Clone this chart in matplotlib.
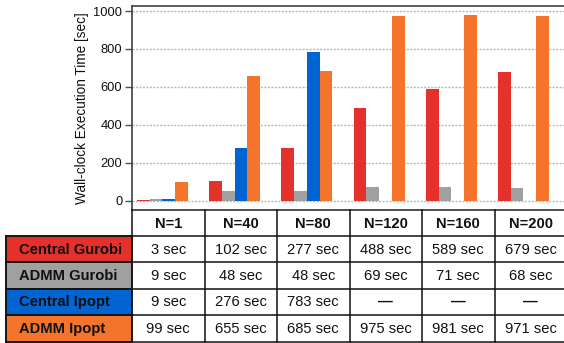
import matplotlib
matplotlib.use("Agg")
import matplotlib.pyplot as plt
from matplotlib.patches import Rectangle

plt.rcParams['font.family'] = ['Liberation Sans', 'DejaVu Sans']

categories = ["N=1", "N=40", "N=80", "N=120", "N=160", "N=200"]
series_names = ["Central Gurobi", "ADMM Gurobi", "Central Ipopt", "ADMM Ipopt"]
central_gurobi = [3, 102, 277, 488, 589, 679]
admm_gurobi = [9, 48, 48, 69, 71, 68]
central_ipopt = [9, 276, 783, None, None, None]
admm_ipopt = [99, 655, 685, 975, 981, 971]
series_values = [central_gurobi, admm_gurobi, central_ipopt, admm_ipopt]
colors = ["#e4312b", "#a0a0a0", "#0064d2", "#f5742b"]
yticks = [0, 200, 400, 600, 800, 1000]

W, H = 564, 343
fig = plt.figure(figsize=(W / 100, H / 100), dpi=100)

# ---- bar chart axes ----
ax = fig.add_axes([132 / W, 1 - 210 / H, 1 - 132 / W, (210 - 6) / H])
bw = 0.177
offsets = [-1.5, -0.5, 0.5, 1.5]
for vals, col, off in zip(series_values, colors, offsets):
    xs = [i + off * bw for i, v in enumerate(vals) if v is not None]
    hs = [v for v in vals if v is not None]
    ax.bar(xs, hs, width=bw, color=col, zorder=3, linewidth=0)

ax.set_xlim(-0.4224, 5.561)
ax.set_ylim(-50, 1026.4)
ax.set_yticks(yticks)
ax.set_yticklabels([str(t) for t in yticks], fontsize=9.3)
ax.set_xticks([])
ax.yaxis.grid(True, color="#b8b8b8", linestyle=(0, (1.5, 1)), linewidth=1.0, zorder=0)
ax.tick_params(axis='y', length=5, color="#505050", width=1, pad=2, labelcolor="#111111")
ax.spines["right"].set_visible(False)
ax.spines["top"].set_color("#404040")
ax.spines["left"].set_color("#404040")
ax.spines["bottom"].set_color("#303030")
for s in ["top", "left", "bottom"]:
    ax.spines[s].set_linewidth(1.2)
ax.set_ylabel("Wall-clock Execution Time [sec]", fontsize=9.8, labelpad=3, color="#111111")

# ---- table (pixel coordinates) ----
tx = fig.add_axes([0, 0, 1, 1], zorder=5)
tx.set_xlim(0, W)
tx.set_ylim(H, 0)
tx.axis("off")
tx.patch.set_alpha(0)

col_edges = [132 + 72.5 * k for k in range(len(categories) + 1)]
row_edges = [210, 236, 262.3, 288.7, 315, 341.5]
lab_left = 6

lc = "#111111"
lw = 1.1
# row label cells
for r, (name, col) in enumerate(zip(series_names, colors)):
    y0, y1 = row_edges[r + 1], row_edges[r + 2]
    tx.add_patch(Rectangle((lab_left, y0), 132 - lab_left, y1 - y0, facecolor=col,
                           edgecolor=lc, linewidth=lw))
    tx.text(19, (y0 + y1) / 2 + 0.5, name, fontsize=10.6, fontweight="bold",
            ha="left", va="center", color="#111111")

# grid lines
for xe in col_edges:
    tx.plot([xe, xe], [row_edges[0], row_edges[-1]], color=lc, lw=lw)
for ye in row_edges[1:]:
    tx.plot([lab_left, col_edges[-1]], [ye, ye], color=lc, lw=lw)
tx.plot([lab_left, lab_left], [row_edges[1], row_edges[-1]], color=lc, lw=lw)

# header
for c, cat in enumerate(categories):
    xc = (col_edges[c] + col_edges[c + 1]) / 2
    tx.text(xc, (row_edges[0] + row_edges[1]) / 2 + 0.5, cat, fontsize=10.6,
            fontweight="bold", ha="center", va="center", color="#111111")

# cells
for r, vals in enumerate(series_values):
    y0, y1 = row_edges[r + 1], row_edges[r + 2]
    for c, v in enumerate(vals):
        xc = (col_edges[c] + col_edges[c + 1]) / 2
        if v is None:
            tx.text(xc, (y0 + y1) / 2, "\u2014", fontsize=10.6, fontweight="bold",
                    ha="center", va="center", color="#111111")
        else:
            tx.text(xc, (y0 + y1) / 2 + 0.5, f"{v} sec", fontsize=10.6,
                    ha="center", va="center", color="#111111")

fig.savefig("out.png", dpi=100)
